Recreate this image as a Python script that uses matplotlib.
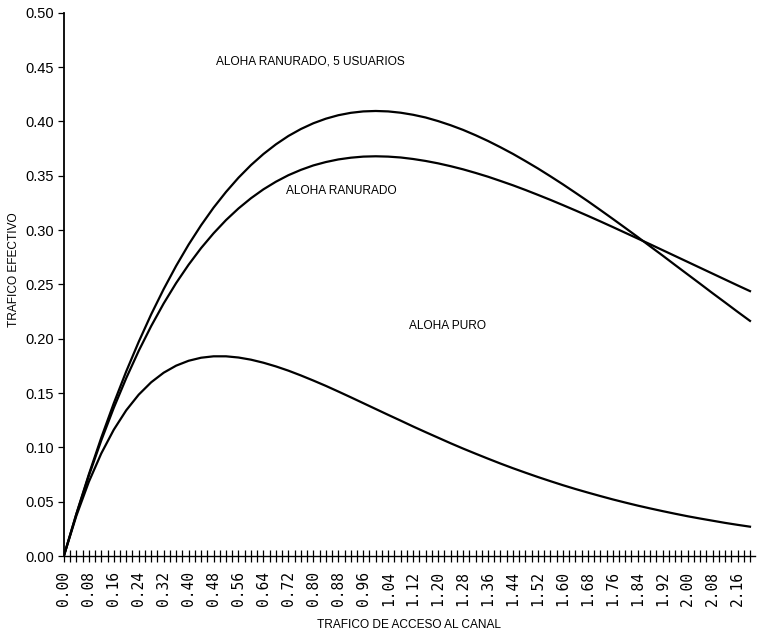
import matplotlib
matplotlib.use("Agg")
import matplotlib.pyplot as plt
from matplotlib.ticker import MultipleLocator, FormatStrFormatter

# Trafico de acceso al canal (G)
trafico = [0.00, 0.04, 0.08, 0.12, 0.16, 0.20, 0.24, 0.28, 0.32, 0.36,
           0.40, 0.44, 0.48, 0.52, 0.56, 0.60, 0.64, 0.68, 0.72, 0.76,
           0.80, 0.84, 0.88, 0.92, 0.96, 1.00, 1.04, 1.08, 1.12, 1.16,
           1.20, 1.24, 1.28, 1.32, 1.36, 1.40, 1.44, 1.48, 1.52, 1.56,
           1.60, 1.64, 1.68, 1.72, 1.76, 1.80, 1.84, 1.88, 1.92, 1.96,
           2.00, 2.04, 2.08, 2.12, 2.16, 2.20]

aloha_puro = [0.0000, 0.0369, 0.0682, 0.0944, 0.1162, 0.1341, 0.1485, 0.1599,
              0.1687, 0.1752, 0.1797, 0.1825, 0.1838, 0.1838, 0.1827, 0.1807,
              0.1779, 0.1745, 0.1706, 0.1662, 0.1615, 0.1566, 0.1514, 0.1461,
              0.1407, 0.1353, 0.1299, 0.1246, 0.1192, 0.1140, 0.1089, 0.1038,
              0.0989, 0.0942, 0.0896, 0.0851, 0.0808, 0.0767, 0.0727, 0.0689,
              0.0652, 0.0617, 0.0584, 0.0552, 0.0521, 0.0492, 0.0464, 0.0438,
              0.0413, 0.0389, 0.0366, 0.0345, 0.0325, 0.0305, 0.0287, 0.0270]

aloha_ranurado = [0.0000, 0.0384, 0.0738, 0.1064, 0.1363, 0.1637, 0.1888, 0.2116,
                  0.2324, 0.2512, 0.2681, 0.2834, 0.2970, 0.3092, 0.3199, 0.3293,
                  0.3375, 0.3445, 0.3505, 0.3554, 0.3595, 0.3626, 0.3650, 0.3666,
                  0.3676, 0.3679, 0.3676, 0.3668, 0.3654, 0.3636, 0.3614, 0.3588,
                  0.3559, 0.3526, 0.3491, 0.3452, 0.3412, 0.3369, 0.3324, 0.3278,
                  0.3230, 0.3181, 0.3131, 0.3080, 0.3028, 0.2975, 0.2922, 0.2869,
                  0.2815, 0.2761, 0.2707, 0.2653, 0.2599, 0.2545, 0.2491, 0.2438]

aloha_5_usuarios = [0.0000, 0.0387, 0.0750, 0.1089, 0.1405, 0.1699, 0.1971, 0.2224,
                    0.2456, 0.2670, 0.2866, 0.3044, 0.3206, 0.3351, 0.3482, 0.3598,
                    0.3700, 0.3789, 0.3866, 0.3930, 0.3983, 0.4025, 0.4057, 0.4079,
                    0.4092, 0.4096, 0.4092, 0.4080, 0.4061, 0.4036, 0.4003, 0.3965,
                    0.3922, 0.3873, 0.3820, 0.3762, 0.3701, 0.3635, 0.3567, 0.3495,
                    0.3421, 0.3344, 0.3266, 0.3185, 0.3103, 0.3020, 0.2936, 0.2850,
                    0.2765, 0.2678, 0.2592, 0.2506, 0.2419, 0.2334, 0.2248, 0.2164]

sans = ["Liberation Sans", "DejaVu Sans"]

fig = plt.figure(figsize=(7.6, 6.38), dpi=100)
ax = fig.add_axes([0.084, 0.1285, 0.909, 0.8515])

for serie in (aloha_5_usuarios, aloha_ranurado, aloha_puro):
    ax.plot(trafico, serie, color="black", lw=1.6)

ax.text(0.79, 0.455, "ALOHA RANURADO, 5 USUARIOS", ha="center", va="center",
        fontsize=8.6, family=sans)
ax.text(0.89, 0.336, "ALOHA RANURADO", ha="center", va="center",
        fontsize=8.6, family=sans)
ax.text(1.23, 0.212, "ALOHA PURO", ha="center", va="center",
        fontsize=8.6, family=sans)

ax.set_xlim(0, 2.215)
ax.set_ylim(0, 0.5)

for s in ("top", "right"):
    ax.spines[s].set_visible(False)
ax.spines["left"].set_linewidth(1.3)
ax.spines["bottom"].set_linewidth(1.0)

ax.xaxis.set_major_locator(MultipleLocator(0.08))
ax.xaxis.set_minor_locator(MultipleLocator(0.02))
ax.xaxis.set_major_formatter(FormatStrFormatter("%.2f"))
ax.yaxis.set_major_locator(MultipleLocator(0.05))
ax.yaxis.set_major_formatter(FormatStrFormatter("%.2f"))

ax.tick_params(axis="x", which="both", direction="inout", length=9,
               width=0.9, pad=6)
ax.tick_params(axis="y", which="major", direction="out", length=4,
               width=0.9, pad=3)
for lbl in ax.get_xticklabels():
    lbl.set_rotation(90)
    lbl.set_family("DejaVu Sans Mono")
    lbl.set_fontsize(10.5)
for lbl in ax.get_yticklabels():
    lbl.set_family(sans)
    lbl.set_fontsize(10.5)

ax.set_xlabel("TRAFICO DE ACCESO AL CANAL", fontsize=8.6, family=sans,
              labelpad=10)
fig.text(14 / 760, 1 - 270 / 638, "TRAFICO EFECTIVO", rotation=90,
         ha="center", va="center", fontsize=8.6, family=sans)

fig.savefig("out.png", dpi=100, facecolor="white")
